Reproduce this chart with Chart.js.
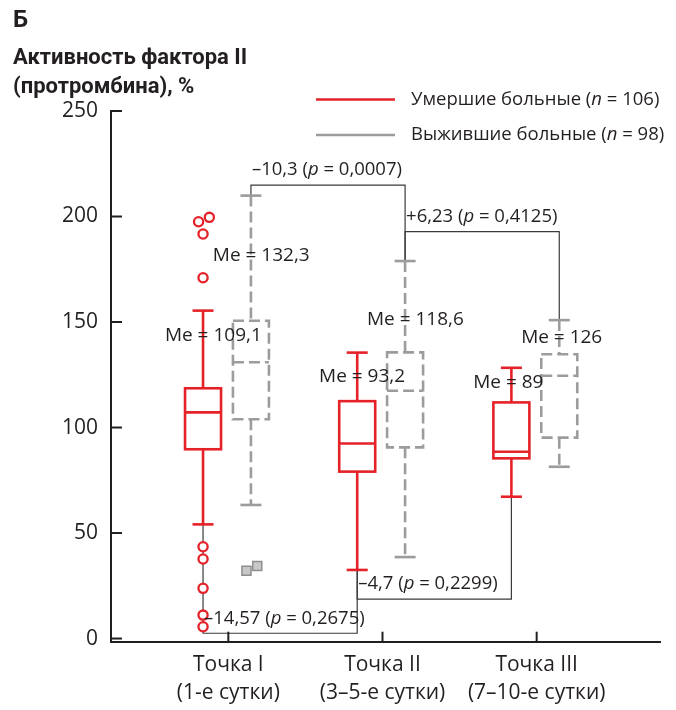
<!DOCTYPE html>
<html><head><meta charset="utf-8">
<script src="https://cdn.jsdelivr.net/npm/chart.js@4.4.1/dist/chart.umd.min.js"></script>
<style>html,body{margin:0;padding:0;background:#fff}#wrap{width:676px;height:710px;position:relative}</style>
</head><body><div id="wrap"><canvas id="c" width="676" height="710"></canvas></div>
<script>
// ---------- DATA ----------
const categories = [["Точка I","(1-е сутки)"],["Точка II","(3–5-е сутки)"],["Точка III","(7–10-е сутки)"]];
const yTickValues = [0,50,100,150,200,250];
const seriesNames = ["Умершие больные", "Выжившие больные"];
const seriesN = [106, 98];

const deadMin    = [54.1, 32.5, 67.2];
const deadQ1     = [89.7, 79.1, 85.4];
const deadMedian = [107.2, 92.4, 88.5];
const deadQ3     = [118.6, 112.5, 111.9];
const deadMax    = [155.4, 135.5, 128.3];
const deadOutliers = [[199.6, 197.5, 191.7, 171.0, 43.5, 37.7, 23.8, 11.1, 5.6], [], []];
const deadMeText = ["109,1", "93,2", "89"];

const aliveMin    = [63.3, 38.6, 81.4];
const aliveQ1     = [103.9, 90.6, 95.2];
const aliveMedian = [130.9, 117.4, 124.5];
const aliveQ3     = [150.6, 135.6, 134.7];
const aliveMax    = [209.9, 178.9, 150.9];
const aliveOutliers = [[34.4, 32.1], [], []];
const aliveMeText = ["132,3", "118,6", "126"];

// comparisons between time points
const compSeries = ["alive", "alive", "dead", "dead"];
const compFrom   = [0, 1, 0, 1];
const compTo     = [1, 2, 1, 2];
const compLevel  = [214.9, 192.8, 2.5, 18.7];
const compDiff   = ["–10,3", "+6,23", "–14,57", "–4,7"];
const compP      = ["0,0007", "0,4125", "0,2675", "0,2299"];

// ---------- STYLE / LAYOUT ----------
const RED = '#e42228', GRAY = '#9c9c9c', INK = '#231f20', THIN = '#3a3a3a';
const FONT = '"Open Sans", "DejaVu Sans", sans-serif';
const BOLD = 'Roboto, "Open Sans", sans-serif';
const BOX_HALF = 18, CAP_HALF = 10.5;
const SERIES = {
  dead:  {off: -0.164, color: RED,  dash: [], min: deadMin, q1: deadQ1, med: deadMedian, q3: deadQ3, max: deadMax, me: deadMeText, nudge: [-14, 0, -3]},
  alive: {off: 0.1466, color: GRAY, dash: [11, 5], min: aliveMin, q1: aliveQ1, med: aliveMedian, q3: aliveQ3, max: aliveMax, me: aliveMeText, nudge: [-3, 13, 0]}
};

function outlierPoints(list, off) {
  const pts = [];
  list.forEach((vals, i) => {
    vals.forEach((v, j) => {
      let dx = 0;
      vals.forEach((w, k) => {
        if (k !== j && Math.abs(w - v) < 5) dx = v > w ? 0.041 : -0.029;
      });
      pts.push({x: i + 1 + off + dx, y: v});
    });
  });
  return pts;
}

function line(ctx, x1, y1, x2, y2) { ctx.beginPath(); ctx.moveTo(x1, y1); ctx.lineTo(x2, y2); ctx.stroke(); }

function richText(ctx, parts, x, y) {
  let cx = x;
  parts.forEach(([t, f]) => { ctx.font = f; ctx.fillText(t, cx, y); cx += ctx.measureText(t).width; });
}

const boxPlugin = {
  id: 'boxplot',
  beforeDatasetsDraw(chart) {
    const {ctx, scales: {x, y}} = chart;
    ctx.save();
    // comparison brackets
    ctx.strokeStyle = THIN; ctx.lineWidth = 1.2; ctx.setLineDash([]);
    compSeries.forEach((k, j) => {
      const s = SERIES[k];
      const a = compFrom[j], b = compTo[j];
      const end = compLevel[j] > s.max[a] ? 'max' : 'min';
      const x1 = x.getPixelForValue(a + 1 + s.off), x2 = x.getPixelForValue(b + 1 + s.off);
      const y1 = y.getPixelForValue(s[end][a]), y2 = y.getPixelForValue(s[end][b]);
      const yl = y.getPixelForValue(compLevel[j]);
      ctx.beginPath(); ctx.moveTo(x1, y1); ctx.lineTo(x1, yl); ctx.lineTo(x2, yl); ctx.lineTo(x2, y2); ctx.stroke();
    });
    // boxes
    for (const k of ['alive', 'dead']) {
      const s = SERIES[k];
      ctx.strokeStyle = s.color; ctx.lineWidth = 2.6;
      for (let i = 0; i < categories.length; i++) {
        const cx = x.getPixelForValue(i + 1 + s.off);
        const py = v => y.getPixelForValue(v);
        ctx.setLineDash(s.dash);
        line(ctx, cx, py(s.max[i]), cx, py(s.q3[i]));
        line(ctx, cx, py(s.q1[i]), cx, py(s.min[i]));
        ctx.strokeRect(cx - BOX_HALF, py(s.q3[i]), 2 * BOX_HALF, py(s.q1[i]) - py(s.q3[i]));
        line(ctx, cx - BOX_HALF, py(s.med[i]), cx + BOX_HALF, py(s.med[i]));
        ctx.setLineDash([]);
        line(ctx, cx - CAP_HALF, py(s.max[i]), cx + CAP_HALF, py(s.max[i]));
        line(ctx, cx - CAP_HALF, py(s.min[i]), cx + CAP_HALF, py(s.min[i]));
      }
    }
    ctx.restore();
  },
  afterDatasetsDraw(chart) {
    const {ctx, scales: {x, y}} = chart;
    ctx.save();
    ctx.fillStyle = INK;
    ctx.textBaseline = 'middle';
    ctx.textAlign = 'left';
    // median labels
    const meFont = '19px ' + FONT;
    for (const k of ['alive', 'dead']) {
      const s = SERIES[k];
      for (let i = 0; i < categories.length; i++) {
        ctx.font = meFont;
        const cx = x.getPixelForValue(i + 1 + s.off);
        const ym = (y.getPixelForValue(s.max[i]) + y.getPixelForValue(s.q3[i])) / 2 + s.nudge[i];
        const left = cx - ctx.measureText('Me ').width - ctx.measureText('=').width / 2;
        ctx.fillText('Me = ' + s.me[i], left, ym);
      }
    }
    // comparison labels
    const cf = '18.5px ' + FONT, cfi = 'italic 18.5px ' + FONT;
    compSeries.forEach((k, j) => {
      const s = SERIES[k];
      const x1 = x.getPixelForValue(compFrom[j] + 1 + s.off);
      const yl = y.getPixelForValue(compLevel[j]);
      richText(ctx, [[compDiff[j] + ' (', cf], ['p', cfi], [' = ' + compP[j] + ')', cf]], x1 + 1, yl - 15);
    });
    ctx.restore();
  },
  afterDraw(chart) {
    const {ctx, scales: {x, y}, chartArea} = chart;
    ctx.save();
    // inward tick marks
    ctx.strokeStyle = INK; ctx.lineWidth = 2;
    yTickValues.forEach(v => { const p = y.getPixelForValue(v); line(ctx, chartArea.left, p, chartArea.left + 11, p); });
    categories.forEach((c, i) => { const p = x.getPixelForValue(i + 1); line(ctx, p, chartArea.bottom, p, chartArea.bottom - 10); });
    // legend
    const colors = [RED, GRAY];
    ctx.textBaseline = 'middle'; ctx.textAlign = 'left'; ctx.fillStyle = INK;
    seriesNames.forEach((nm, i) => {
      const ly = 99.5 + i * 35.5;
      ctx.strokeStyle = colors[i]; ctx.lineWidth = 2.6;
      line(ctx, 316, ly, 395, ly);
      richText(ctx, [[nm + ' (', '18.5px ' + FONT], ['n', 'italic 18.5px ' + FONT], [' = ' + seriesN[i] + ')', '18.5px ' + FONT]], 411, ly);
    });
    // panel letter and axis title
    ctx.font = 'bold 24px ' + BOLD;
    ctx.fillText('Б', 13, 21);
    ctx.font = 'bold 22px ' + BOLD;
    ctx.fillText('Активность фактора II', 13, 58);
    ctx.fillText('(протромбина), %', 13, 87);
    ctx.restore();
  }
};

new Chart(document.getElementById('c'), {
  type: 'scatter',
  data: {
    datasets: [
      {label: seriesNames[0], data: outlierPoints(deadOutliers, SERIES.dead.off), pointStyle: 'circle', pointRadius: 4.6,
       borderColor: RED, backgroundColor: '#ffffff', borderWidth: 2.3},
      {label: seriesNames[1], data: outlierPoints(aliveOutliers, SERIES.alive.off), pointStyle: 'rect', pointRadius: 6.4,
       borderColor: '#8e8e8e', backgroundColor: '#c8c8c8', borderWidth: 1.5}
    ]
  },
  options: {
    responsive: false, animation: false,
    layout: {padding: {top: 111, right: 16, left: 0, bottom: 0}},
    plugins: {legend: {display: false}, tooltip: {enabled: false}},
    scales: {
      x: {
        type: 'linear', min: 0.239, max: 3.80,
        afterBuildTicks: s => { s.ticks = categories.map((c, i) => ({value: i + 1})); },
        afterFit: s => { s.height = 68.3; },
        grid: {display: false, drawTicks: false},
        border: {display: true, color: INK, width: 2},
        ticks: {padding: 10, autoSkip: false, maxRotation: 0, color: INK, font: {family: FONT, size: 21, lineHeight: 1.3},
          callback: v => categories[Math.round(v) - 1]}
      },
      y: {
        type: 'linear', min: -1.5, max: 250,
        afterBuildTicks: s => { s.ticks = yTickValues.map(v => ({value: v})); },
        afterFit: s => { s.width = 111; },
        grid: {display: false, drawTicks: false},
        border: {display: true, color: INK, width: 2},
        ticks: {padding: 13, color: INK, font: {family: FONT, size: 21}, callback: v => String(v)}
      }
    }
  },
  plugins: [boxPlugin]
});
</script></body></html>
